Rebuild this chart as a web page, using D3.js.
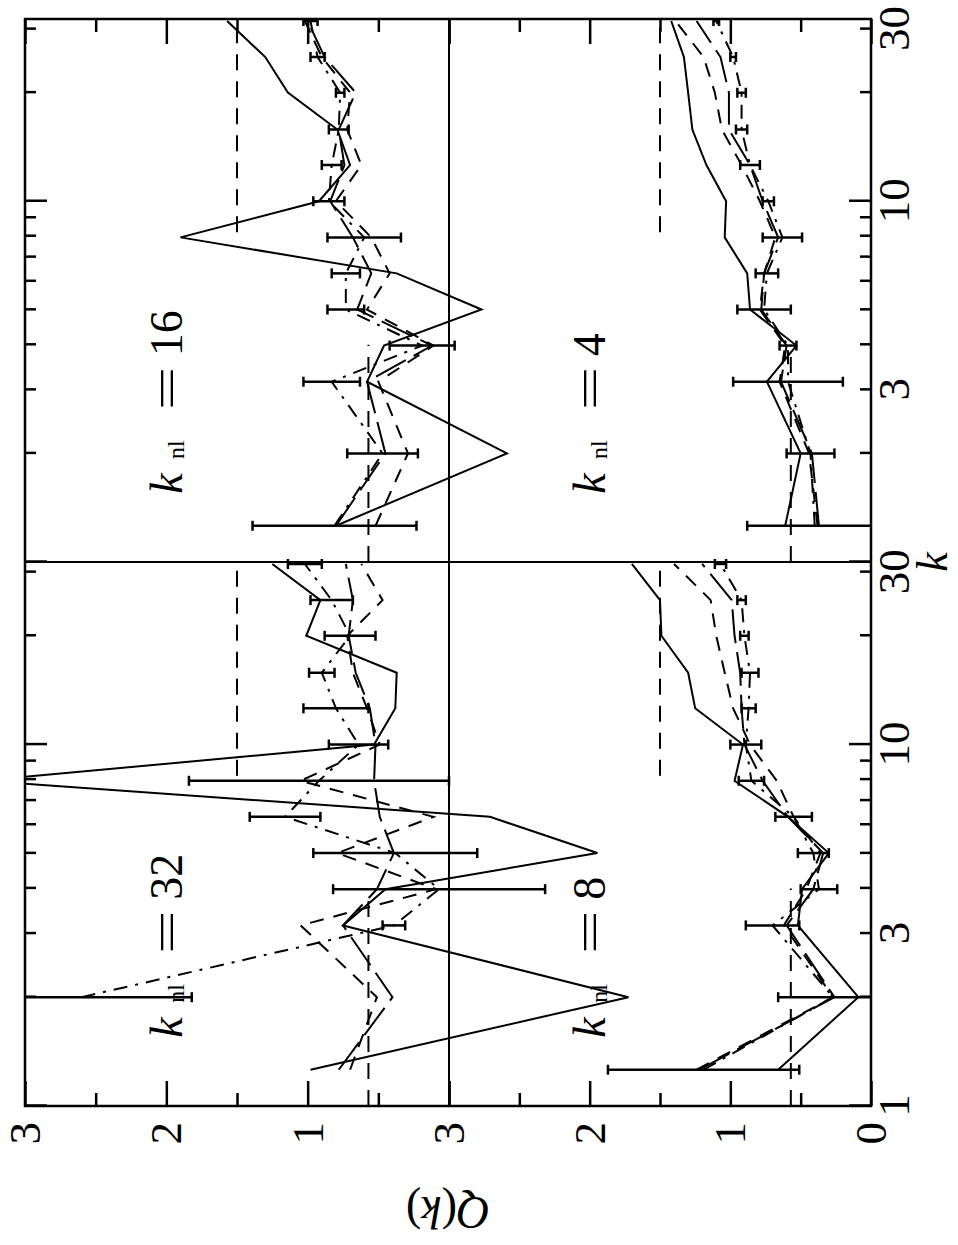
<!DOCTYPE html>
<html>
<head>
<meta charset="utf-8">
<script src="https://cdn.jsdelivr.net/npm/d3@7/dist/d3.min.js"></script>
<style>
  body { margin: 0; background: #fff; }
  svg { display: block; }
  text { font-family: "Liberation Serif", "DejaVu Serif", serif; fill: #000; }
</style>
</head>
<body>
<svg id="chart" width="958" height="1245"></svg>
<script>
'use strict';

// k bins (log spaced), shared by every panel
const kValues = [1.26, 2.0, 3.16, 3.98, 5.01, 6.31, 7.94, 10, 12.6, 15.8, 20, 25.1, 31.6];

// k_nl = 32
const q32Solid   = [0.98, -1.27, 0.75, 0.45, -1.05, -0.29, 3.3, 0.53, 0.38, 0.37, 1.01, 0.91, 1.25];
const q32Long    = [0.78, 0.40, 0.75, 0.51, 0.39, 0.49, 0.53, 0.52, 0.56, 0.66, 0.71, 0.68, 0.73];
const q32Short   = [0.70, 0.51, 1.05, 0.09, 0.79, 0.11, 1.05, 0.49, 0.58, 0.68, 0.72, 0.47, 0.62];
const q32DotDash = [null, 2.60, 0.39, 0.07, 0.38, 1.16, 0.92, 0.64, 0.80, 0.90, 0.70, 0.83, 1.02];
const q32Err     = [null, 0.78, 0.08, 0.75, 0.58, 0.25, 0.92, 0.21, 0.23, 0.09, 0.18, 0.15, 0.12];

// k_nl = 16
const q16Solid   = [0.80, -0.41, 0.58, 0.46, -0.23, 0.37, 1.90, 0.92, 0.70, 0.79, 1.14, 1.30, 1.57];
const q16Long    = [0.80, 0.45, 0.58, 0.12, 0.65, 0.55, 0.68, 0.84, 0.74, 0.78, 0.66, 0.88, 1.00];
const q16Short   = [0.52, 0.29, 0.50, 0.11, 0.58, 0.42, 0.55, 0.80, 0.62, 0.72, 0.70, 0.90, 1.02];
const q16DotDash = [0.81, 0.47, 0.83, 0.19, 0.73, 0.73, 0.60, 0.85, 0.83, 0.78, 0.77, 0.93, 0.98];
const q16Err     = [0.58, 0.25, 0.20, 0.23, 0.13, 0.10, 0.26, 0.11, 0.07, 0.07, 0.03, 0.05, 0.05];

// k_nl = 8
const q8Solid    = [0.66, 0.09, 0.52, 0.49, 0.30, 0.59, 0.97, 0.91, 1.25, 1.30, 1.49, 1.50, 1.70];
const q8Long     = [1.22, 0.26, 0.60, 0.41, 0.34, 0.59, 0.77, 0.90, 0.92, 0.93, 0.97, 0.99, 1.20];
const q8Short    = [1.24, 0.27, 0.62, 0.46, 0.36, 0.55, 0.67, 0.86, 0.98, 1.04, 1.10, 1.14, 1.40];
const q8DotDash  = [1.19, 0.27, 0.70, 0.37, 0.41, 0.55, 0.85, 0.89, 0.87, 0.86, 0.90, 0.92, 1.07];
const q8Err      = [0.68, 0.39, 0.19, 0.13, 0.11, 0.13, 0.09, 0.11, 0.05, 0.06, 0.03, 0.03, 0.04];

// k_nl = 4
const q4Solid    = [0.61, 0.50, 0.74, 0.53, 0.86, 0.88, 1.04, 1.03, 1.17, 1.27, 1.30, 1.33, 1.42];
const q4Long     = [0.37, 0.42, 0.64, 0.60, 0.78, 0.76, 0.66, 0.77, 0.86, 1.01, 1.01, 1.07, 1.24];
const q4Short    = [0.38, 0.44, 0.65, 0.61, 0.79, 0.76, 0.68, 0.79, 0.92, 1.06, 1.11, 1.19, 1.39];
const q4DotDash  = [0.40, 0.43, 0.59, 0.59, 0.76, 0.74, 0.63, 0.73, 0.86, 0.92, 0.92, 0.98, 1.10];
const q4Err      = [0.48, 0.17, 0.39, 0.06, 0.19, 0.08, 0.14, 0.04, 0.07, 0.04, 0.03, 0.02, 0.02];

// reference levels
const qLow = 0.57,  kLowRange = [1, 4];
const qHigh = 1.5,  kHighRange = [8.2, 32];

const kTicksMinor = [2, 3, 4, 5, 6, 7, 8, 9, 20, 30];
const kTicksMajor = [1, 10];
const qTicksMinor = [0.5, 1.5, 2.5];
const qTicksMajor = [0, 1, 2, 3];

const panels = [
    { label: '32', col: 0, row: 0, solid: q32Solid, long: q32Long, short: q32Short, dd: q32DotDash, err: q32Err },
    { label: '16', col: 1, row: 0, solid: q16Solid, long: q16Long, short: q16Short, dd: q16DotDash, err: q16Err },
    { label: '8',  col: 0, row: 1, solid: q8Solid,  long: q8Long,  short: q8Short,  dd: q8DotDash,  err: q8Err },
    { label: '4',  col: 1, row: 1, solid: q4Solid,  long: q4Long,  short: q4Short,  dd: q4DotDash,  err: q4Err }
];

// the figure is laid out landscape and then turned a quarter turn
const W = 1245;
const frame = { x0: 139, xm: 683, x1: 1226, y0: 25, ym: 449, y1: 871 };

const svg = d3.select('#chart');
const g = svg.append('g').attr('transform', `translate(0,${W}) rotate(-90)`);

const kx = [
    d3.scaleLog().domain([1, 32]).range([frame.x0, frame.xm]),
    d3.scaleLog().domain([1, 32]).range([frame.xm, frame.x1])
];
const qy = [
    d3.scaleLinear().domain([0, 3]).range([frame.ym, frame.y0]),
    d3.scaleLinear().domain([0, 3]).range([frame.y1, frame.ym])
];

g.append('clipPath').attr('id', 'clip')
    .append('rect')
    .attr('x', frame.x0).attr('y', frame.y0)
    .attr('width', frame.x1 - frame.x0).attr('height', frame.y1 - frame.y0);

// ticks on the outer box
function styleAxis(sel) {
    sel.select('.domain').remove();
    sel.selectAll('line').attr('stroke', '#000').attr('stroke-width', 2.5);
    sel.selectAll('text').remove();
}
[0, 1].forEach(c => {
    const mk = (vals, size) => {
        g.append('g').attr('transform', `translate(0,${frame.y1})`)
            .call(d3.axisBottom(kx[c]).tickValues(vals).tickSize(-size)).call(styleAxis);
        g.append('g').attr('transform', `translate(0,${frame.y0})`)
            .call(d3.axisTop(kx[c]).tickValues(vals).tickSize(-size)).call(styleAxis);
    };
    mk(kTicksMinor, 11);
    mk(kTicksMajor, 22);
});
[0, 1].forEach(r => {
    const mk = (vals, size) => {
        g.append('g').attr('transform', `translate(${frame.x0},0)`)
            .call(d3.axisLeft(qy[r]).tickValues(vals).tickSize(-size)).call(styleAxis);
        g.append('g').attr('transform', `translate(${frame.x1},0)`)
            .call(d3.axisRight(qy[r]).tickValues(vals).tickSize(-size)).call(styleAxis);
    };
    mk(qTicksMinor, 13);
    mk(qTicksMajor, 25);
});

// tick labels
function labelAxis(sel) {
    sel.select('.domain').remove();
    sel.selectAll('line').remove();
    sel.selectAll('text').attr('font-size', 45)
        .attr('font-family', '"Liberation Serif", serif');
}
const fmt = d3.format('d');
g.append('g').attr('transform', `translate(0,${frame.y1})`)
    .call(d3.axisBottom(kx[0]).tickValues([1, 3, 10, 30]).tickFormat(fmt).tickSize(0).tickPadding(6))
    .call(labelAxis);
g.append('g').attr('transform', `translate(0,${frame.y1})`)
    .call(d3.axisBottom(kx[1]).tickValues([3, 10, 30]).tickFormat(fmt).tickSize(0).tickPadding(6))
    .call(labelAxis);
g.append('g').attr('transform', `translate(${frame.x0},0)`)
    .call(d3.axisLeft(qy[0]).tickValues([1, 2, 3]).tickFormat(fmt).tickSize(0).tickPadding(16))
    .call(labelAxis);
g.append('g').attr('transform', `translate(${frame.x0},0)`)
    .call(d3.axisLeft(qy[1]).tickValues([0, 1, 2, 3]).tickFormat(fmt).tickSize(0).tickPadding(16))
    .call(labelAxis);

// axis titles
g.append('text')
    .attr('x', frame.xm).attr('y', 947)
    .attr('text-anchor', 'middle').attr('font-size', 44).attr('font-style', 'italic')
    .text('k');
const qt = g.append('text')
    .attr('transform', `translate(48,${(frame.y0 + frame.y1) / 2}) rotate(-90)`)
    .attr('text-anchor', 'middle').attr('font-size', 46);
qt.append('tspan').attr('font-style', 'italic').text('Q');
qt.append('tspan').text('(');
qt.append('tspan').attr('font-style', 'italic').text('k');
qt.append('tspan').text(')');

// the box
g.append('rect')
    .attr('x', frame.x0).attr('y', frame.y0)
    .attr('width', frame.x1 - frame.x0).attr('height', frame.y1 - frame.y0)
    .attr('fill', 'none').attr('stroke', '#000').attr('stroke-width', 2.5);
g.append('line')
    .attr('x1', frame.xm).attr('x2', frame.xm).attr('y1', frame.y0).attr('y2', frame.y1)
    .attr('stroke', '#000').attr('stroke-width', 2);
g.append('line')
    .attr('x1', frame.x0).attr('x2', frame.x1).attr('y1', frame.ym).attr('y2', frame.ym)
    .attr('stroke', '#000').attr('stroke-width', 2);

const plot = g.append('g').attr('clip-path', 'url(#clip)');

const styles = {
    solid: null,
    long: '34,9',
    short: '14,10',
    dd: '14,8,3,8'
};

panels.forEach(p => {
    const x = kx[p.col];
    const y = qy[p.row];

    // reference levels
    [[qLow, kLowRange], [qHigh, kHighRange]].forEach(([q, range]) => {
        plot.append('line')
            .attr('x1', x(range[0])).attr('x2', x(range[1]))
            .attr('y1', y(q)).attr('y2', y(q))
            .attr('stroke', '#000').attr('stroke-width', 2)
            .attr('stroke-dasharray', '16,11');
    });

    const line = d3.line()
        .defined(d => d.q != null)
        .x(d => x(d.k))
        .y(d => y(d.q));

    ['long', 'short', 'dd', 'solid'].forEach(name => {
        const pts = kValues.map((k, i) => ({ k: k, q: p[name][i] }));
        plot.append('path')
            .datum(pts)
            .attr('d', line)
            .attr('fill', 'none')
            .attr('stroke', '#000')
            .attr('stroke-width', 2)
            .attr('stroke-dasharray', styles[name]);
    });

    // error bars on the dot-dash run
    const bars = kValues.map((k, i) => ({ k: k, q: p.dd[i], e: p.err[i] }))
        .filter(d => d.q != null && d.e != null);
    const eb = plot.append('g').attr('stroke', '#000').attr('stroke-width', 2.5);
    eb.selectAll('.bar').data(bars).join('line')
        .attr('x1', d => x(d.k)).attr('x2', d => x(d.k))
        .attr('y1', d => y(d.q - d.e)).attr('y2', d => y(d.q + d.e));
    eb.selectAll('.capLo').data(bars).join('line')
        .attr('x1', d => x(d.k) - 5).attr('x2', d => x(d.k) + 5)
        .attr('y1', d => y(d.q - d.e)).attr('y2', d => y(d.q - d.e));
    eb.selectAll('.capHi').data(bars).join('line')
        .attr('x1', d => x(d.k) - 5).attr('x2', d => x(d.k) + 5)
        .attr('y1', d => y(d.q + d.e)).attr('y2', d => y(d.q + d.e));

    // panel label  k_nl = N
    const by = y(1.89);
    g.append('text').attr('x', x(1.545)).attr('y', by)
        .attr('font-size', 46).attr('font-style', 'italic').text('k');
    g.append('text').attr('x', x(1.93)).attr('y', by + 2)
        .attr('font-size', 24).text('nl');
    g.append('text').attr('x', x(2.63)).attr('y', by)
        .attr('font-size', 46).attr('textLength', 44).attr('lengthAdjust', 'spacingAndGlyphs').text('=');
    g.append('text').attr('x', x(3.72)).attr('y', by)
        .attr('font-size', 46).text(p.label);
});
</script>
</body>
</html>
